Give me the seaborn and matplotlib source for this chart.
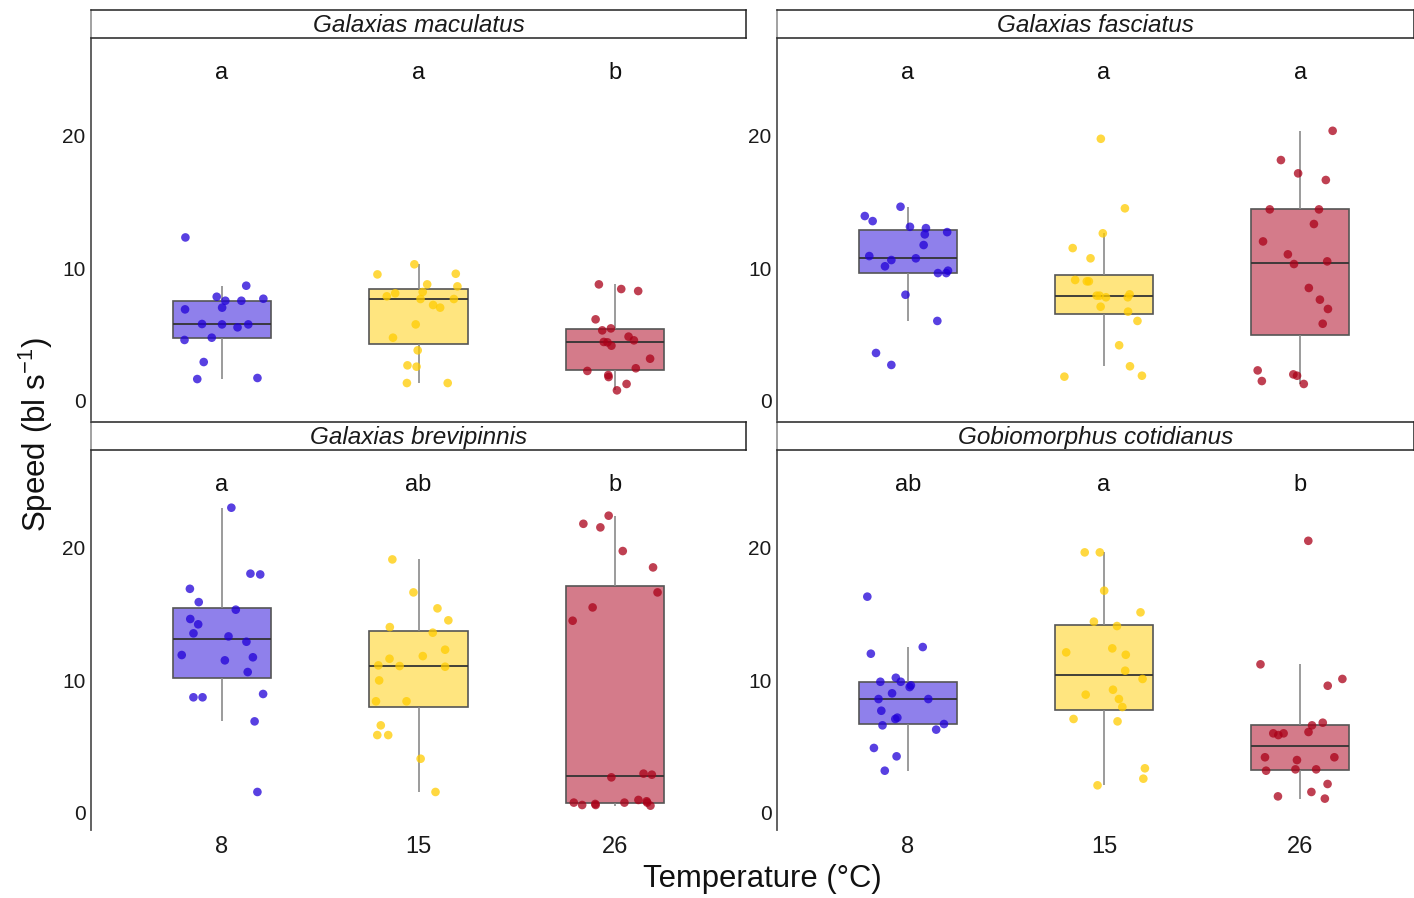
import numpy as np
import pandas as pd
import seaborn as sns
import matplotlib
matplotlib.use("Agg")
import matplotlib.pyplot as plt

# ---------------- data ----------------
species = ["Galaxias maculatus", "Galaxias fasciatus",
           "Galaxias brevipinnis", "Gobiomorphus cotidianus"]
temps = ["8", "15", "26"]

gm_8 = [12.3, 8.67, 7.84, 7.54, 7.69, 7.54, 7.02, 6.89, 5.79, 5.76, 5.54, 5.76, 4.76, 4.59, 2.93, 1.73, 1.65]
gm_15 = [10.28, 9.57, 9.52, 8.77, 8.62, 8.10, 8.20, 7.67, 7.87, 7.67, 7.02, 7.22, 5.76, 4.76, 3.81, 2.68, 2.58, 1.35, 1.35]
gm_26 = [8.27, 8.77, 8.42, 6.14, 5.46, 5.31, 4.84, 4.44, 4.16, 4.56, 4.41, 3.18, 2.26, 2.46, 1.95, 1.80, 1.28, 0.80]

gf_8 = [14.61, 13.91, 13.53, 13.0, 13.1, 12.53, 12.7, 11.73, 10.9, 10.6, 10.73, 10.13, 9.8, 9.62, 9.62, 7.99, 6.02, 3.61, 2.71]
gf_15 = [19.72, 14.49, 12.61, 11.5, 10.73, 9.0, 9.0, 9.1, 7.92, 7.92, 7.8, 8.02, 7.8, 7.09, 6.72, 6.02, 4.19, 2.61, 1.9, 1.83]
gf_26 = [20.32, 18.12, 17.12, 16.62, 14.41, 14.41, 13.31, 12.0, 11.03, 10.5, 10.3, 8.5, 7.62, 6.92, 5.81, 2.3, 2.0, 1.9, 1.5, 1.28]

gb_8 = [22.96, 18.0, 17.94, 16.86, 15.86, 15.29, 14.59, 14.19, 13.28, 13.51, 12.88, 11.71, 11.88, 11.48, 10.6, 8.95, 8.7, 8.7, 6.89, 1.58]
gb_15 = [19.07, 16.59, 15.39, 14.49, 13.98, 13.56, 12.28, 11.8, 11.6, 11.1, 11.05, 11.0, 9.97, 8.4, 8.4, 6.59, 5.86, 5.86, 4.08, 1.58]
gb_26 = [22.36, 21.75, 21.48, 19.7, 18.47, 16.59, 15.46, 14.46, 2.96, 2.88, 2.68, 0.98, 0.88, 0.78, 0.78, 0.78, 0.68, 0.6, 0.6, 0.55]

gc_8 = [16.27, 12.48, 11.98, 10.17, 9.87, 9.87, 9.47, 9.6, 9.0, 8.57, 8.57, 7.69, 7.07, 7.17, 6.59, 6.69, 6.27, 4.89, 4.26, 3.18]
gc_15 = [19.6, 19.6, 16.72, 15.09, 14.39, 14.06, 12.38, 11.9, 12.08, 10.7, 10.08, 9.27, 8.9, 8.57, 7.97, 6.89, 7.07, 3.36, 2.58, 2.08]
gc_26 = [20.47, 11.18, 10.08, 9.57, 6.59, 6.79, 5.99, 5.99, 5.86, 6.09, 4.19, 4.19, 3.98, 3.28, 3.18, 3.28, 2.18, 1.58, 1.25, 1.08]

letters_gm = ["a", "a", "b"]
letters_gf = ["a", "a", "a"]
letters_gb = ["a", "ab", "b"]
letters_gc = ["ab", "a", "b"]

box_fill = ["#8f80eb", "#ffe57f", "#d47b8a"]
point_col = ["#2000d8", "#ffcc00", "#aa0018"]

series = {
    species[0]: (gm_8, gm_15, gm_26),
    species[1]: (gf_8, gf_15, gf_26),
    species[2]: (gb_8, gb_15, gb_26),
    species[3]: (gc_8, gc_15, gc_26),
}
letters = {species[0]: letters_gm, species[1]: letters_gf,
           species[2]: letters_gb, species[3]: letters_gc}

rows = []
for sp, vals in series.items():
    for t, v in zip(temps, vals):
        for s in v:
            rows.append((sp, t, s))
df = pd.DataFrame(rows, columns=["species", "temp", "speed"])

# ---------------- style ----------------
sns.set_theme(style="white")
plt.rcParams["font.family"] = ["Liberation Sans", "DejaVu Sans"]
plt.rcParams["mathtext.fontset"] = "custom"
plt.rcParams["mathtext.rm"] = "Liberation Sans"
plt.rcParams["mathtext.it"] = "Liberation Sans:italic"

W, H = 1414, 898
fig = plt.figure(figsize=(W / 100, H / 100), dpi=100)

def fr(x0, y0, x1, y1):
    return [x0 / W, 1 - y1 / H, (x1 - x0) / W, (y1 - y0) / H]

panels = [
    (species[0], (91, 38, 746, 420), (91, 10, 746, 38), (-0.667, 2.667), (-1.43, 27.3), False),
    (species[1], (777, 38, 1414, 420), (777, 10, 1414, 38), (-0.667, 2.58), (-1.43, 27.3), False),
    (species[2], (91, 450, 746, 830), (91, 422, 746, 450), (-0.667, 2.667), (-1.28, 27.3), True),
    (species[3], (777, 450, 1414, 830), (777, 422, 1414, 450), (-0.667, 2.58), (-1.28, 27.3), True),
]

np.random.seed(7)
for sp, box, strip, xl, yl, show_x in panels:
    ax = fig.add_axes(fr(*box))
    sub = df[df["species"] == sp]
    sns.boxplot(data=sub, x="temp", y="speed", hue="temp", order=temps,
                hue_order=temps, palette=box_fill, width=0.5, dodge=False,
                showfliers=False, showcaps=False, saturation=1,
                linecolor="#555555", linewidth=1.2,
                whiskerprops=dict(color="#8a8a8a", linewidth=1.2),
                medianprops=dict(color="#333333", linewidth=1.3),
                legend=False, ax=ax)
    sns.stripplot(data=sub, x="temp", y="speed", hue="temp", order=temps,
                  hue_order=temps, palette=point_col, jitter=0.22, size=6.2,
                  alpha=0.75, linewidth=0, legend=False, ax=ax, zorder=3)
    ax.set_xlim(*xl)
    ax.set_ylim(*yl)
    ax.set_yticks([0, 10, 20])
    ax.set_xlabel("")
    ax.set_ylabel("")
    for s in ["top", "right", "bottom"]:
        ax.spines[s].set_visible(False)
    ax.spines["left"].set_color("#555555")
    ax.spines["left"].set_linewidth(1.3)
    ax.tick_params(axis="y", length=3, width=1, color="#555555",
                   labelsize=15, labelcolor="#1a1a1a", pad=1)
    if show_x:
        ax.tick_params(axis="x", length=3, width=1, color="#e5e5e5",
                       labelsize=17, labelcolor="#1a1a1a", pad=1)
    else:
        ax.tick_params(axis="x", length=0, labelbottom=False)
    for i, lab in enumerate(letters[sp]):
        ax.text(i, 24.66, lab, ha="center", va="center", fontsize=17,
                color="#111111")

    sax = fig.add_axes(fr(*strip))
    sax.set_xticks([])
    sax.set_yticks([])
    for s in sax.spines.values():
        s.set_color("#222222")
        s.set_linewidth(1.1)
    sax.spines["left"].set_color("#888888")
    sax.text(0.5, 0.45, sp, ha="center", va="center", fontsize=17.5,
             style="italic", color="#1a1a1a", transform=sax.transAxes)

fig.text(36 / W, 1 - 435 / H, "Speed (bl s$^{-1}$)", rotation=90,
         ha="center", va="center", fontsize=22.5, color="#111111")
fig.text(762 / W, 1 - 879 / H, "Temperature (°C)", ha="center",
         va="center", fontsize=22.3, color="#111111")

fig.savefig("out.png", dpi=100)
